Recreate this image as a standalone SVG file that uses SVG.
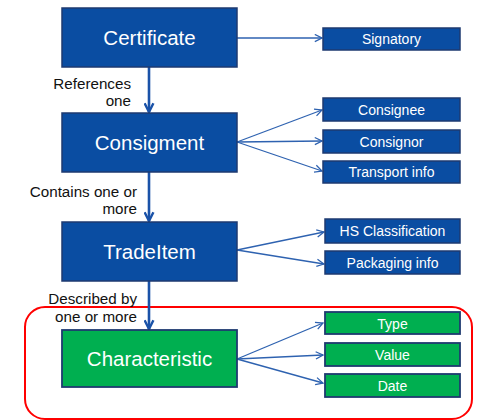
<svg xmlns="http://www.w3.org/2000/svg" width="486" height="420" viewBox="0 0 486 420">
<defs>
<marker id="ah" viewBox="0 0 10 10" refX="9" refY="5" markerWidth="9" markerHeight="9" markerUnits="userSpaceOnUse" orient="auto"><path d="M1,1 L9,5 L1,9" fill="none" stroke="#2E62B0" stroke-width="1.4"/></marker>
<marker id="ahv" viewBox="0 0 10 10" refX="9" refY="5" markerWidth="11" markerHeight="11" markerUnits="userSpaceOnUse" orient="auto"><path d="M1,1 L9,5 L1,9" fill="none" stroke="#1A52A8" stroke-width="2.2"/></marker>
</defs>
<style>
.big{fill:#0A4DA2;stroke:#1E3A70;stroke-width:1.5}
.sm{fill:#0A4DA2;stroke:#1E3A70;stroke-width:1.5}
.gbig{fill:#00AF50;stroke:#1E3A70;stroke-width:1.8}
.gsm{fill:#00AF50;stroke:#1E3A70;stroke-width:1.8}
.bt{font-family:"Liberation Sans",Arial,sans-serif;font-size:20.5px;fill:#fff;text-anchor:middle}
.st{font-family:"Liberation Sans",Arial,sans-serif;font-size:14px;fill:#fff;text-anchor:middle}
.lb{font-family:"Liberation Sans",Arial,sans-serif;font-size:15.2px;fill:#111;text-anchor:end}
.c{fill:none;stroke:#2E62B0;stroke-width:1.3;marker-end:url(#ah)}
.v{fill:none;stroke:#1A52A8;stroke-width:2.6;marker-end:url(#ahv)}
</style>
<rect width="486" height="420" fill="#fff"/>
<rect id="highlight" x="25" y="307" width="447" height="112" rx="20" ry="20" fill="none" stroke="#FF0000" stroke-width="2"/>
<g id="connectors">
<line class="c" x1="237" y1="38" x2="322" y2="38"/>
<line class="v" x1="149" y1="67" x2="149" y2="112"/>
<line class="c" x1="237" y1="142" x2="322" y2="110"/>
<line class="c" x1="237" y1="142" x2="322" y2="141"/>
<line class="c" x1="237" y1="142" x2="322" y2="171"/>
<line class="v" x1="149" y1="172" x2="149" y2="221"/>
<line class="c" x1="237" y1="250" x2="324" y2="232"/>
<line class="c" x1="237" y1="250" x2="324" y2="264"/>
<line class="v" x1="149" y1="281" x2="149" y2="329"/>
<line class="c" x1="237" y1="359" x2="323" y2="323"/>
<line class="c" x1="237" y1="359" x2="323" y2="355"/>
<line class="c" x1="237" y1="359" x2="323" y2="383"/>
</g>
<g id="labels">
<text class="lb" x="131" y="89">References</text>
<text class="lb" x="131" y="106">one</text>
<text class="lb" x="137" y="197">Contains one or</text>
<text class="lb" x="137" y="214">more</text>
<text class="lb" x="137" y="304">Described by</text>
<text class="lb" x="137" y="322">one or more</text>
</g>
<g id="certificate"><rect class="big" x="62" y="8" width="175" height="59"/><text class="bt" x="149.5" y="45">Certificate</text></g>
<g id="signatory"><rect class="sm" x="323" y="28" width="137" height="22"/><text class="st" x="391.5" y="44">Signatory</text></g>
<g id="consignment"><rect class="big" x="62" y="113" width="175" height="59"/><text class="bt" x="149.5" y="150">Consigment</text></g>
<g id="consignee"><rect class="sm" x="323" y="98" width="137" height="23"/><text class="st" x="391.5" y="114.5">Consignee</text></g>
<g id="consignor"><rect class="sm" x="323" y="130" width="137" height="23"/><text class="st" x="391.5" y="146.5">Consignor</text></g>
<g id="transport"><rect class="sm" x="323" y="161" width="137" height="22"/><text class="st" x="391.5" y="177">Transport info</text></g>
<g id="tradeitem"><rect class="big" x="62" y="222" width="175" height="59"/><text class="bt" x="149.5" y="259">TradeItem</text></g>
<g id="hs"><rect class="sm" x="325" y="219" width="135" height="24"/><text class="st" x="392.5" y="236">HS Classification</text></g>
<g id="packaging"><rect class="sm" x="325" y="251" width="135" height="23"/><text class="st" x="392.5" y="268">Packaging info</text></g>
<g id="characteristic"><rect class="gbig" x="62" y="330" width="175" height="57"/><text class="gt bt" x="149.5" y="366">Characteristic</text></g>
<g id="type"><rect class="gsm" x="325" y="312" width="135" height="22"/><text class="st" x="392.5" y="328.5">Type</text></g>
<g id="value"><rect class="gsm" x="325" y="343" width="135" height="23"/><text class="st" x="392.5" y="359.5">Value</text></g>
<g id="date"><rect class="gsm" x="325" y="374" width="135" height="23"/><text class="st" x="392.5" y="390.5">Date</text></g>
</svg>
